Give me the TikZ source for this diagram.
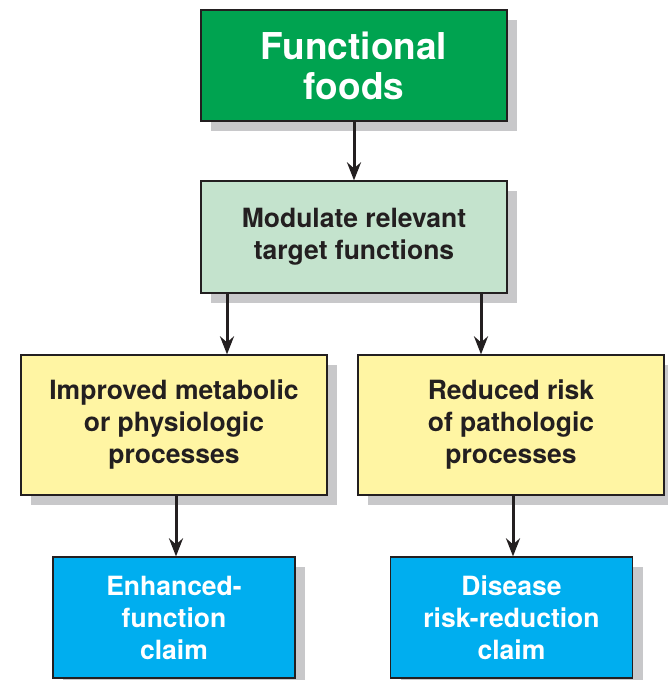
\documentclass[tikz,border=0pt]{standalone}
\usepackage{fontspec}
\setmainfont{TeX Gyre Heros}
\usetikzlibrary{arrows.meta,shadows}
\definecolor{ffgreen}{RGB}{0,163,80}
\definecolor{modgreen}{RGB}{196,227,205}
\definecolor{procyellow}{RGB}{255,245,163}
\definecolor{claimblue}{RGB}{0,174,239}
\definecolor{shadowgray}{RGB}{200,200,202}
\definecolor{ink}{RGB}{35,31,32}

\begin{document}
\begin{tikzpicture}[x=1pt, y=1pt, font=\bfseries,
		box/.style={draw=ink, line width=1.3pt, align=center, inner sep=0pt,
			drop shadow={shadow xshift=10pt, shadow yshift=-10pt, fill=shadowgray, opacity=1}},
		arr/.style={draw=ink, line width=3pt, -{Stealth[length=18pt, width=14pt, inset=6pt]}},
		big/.style={font=\fontsize{37}{40}\selectfont\bfseries},
		mid/.style={font=\fontsize{26.5}{32}\selectfont\bfseries}]
		\useasboundingbox (0,0) rectangle (668,-680);
		% top of the chain
		\node[box, big, fill=ffgreen, text=white, minimum width=306pt, minimum height=111pt]
			(ff) at (354,-65.5) {Functional\\foods};
		\node[box, mid, fill=modgreen, text=ink, minimum width=306pt, minimum height=112pt]
			(mod) at (354,-237) {Modulate relevant\\target functions};
		% processes
		\node[box, mid, fill=procyellow, text=ink, minimum width=306pt, minimum height=140pt]
			(imp) at (174,-425) {Improved metabolic\\or physiologic\\processes};
		\node[box, mid, fill=procyellow, text=ink, minimum width=306pt, minimum height=140pt]
			(red) at (511,-425) {Reduced risk\\of pathologic\\processes};
		% claims
		\node[box, mid, fill=claimblue, text=white, minimum width=242pt, minimum height=121pt]
			(enh) at (174,-617.5) {Enhanced-\\function\\claim};
		\node[box, mid, fill=claimblue, text=white, minimum width=242pt, minimum height=121pt]
			(dis) at (511.5,-617.5) {Disease\\risk-reduction\\claim};
		% arrows
		\draw[arr] (ff.south) -- (mod.north);
		\draw[arr] ([xshift=-127pt]mod.south) -- ([xshift=53pt]imp.north);
		\draw[arr] ([xshift=127pt]mod.south) -- ([xshift=-30pt]red.north);
		\draw[arr] ([xshift=2pt]imp.south) -- ([xshift=2pt]enh.north);
		\draw[arr] ([xshift=2pt]red.south) -- ([xshift=1.5pt]dis.north);
	\end{tikzpicture}
\end{document}
